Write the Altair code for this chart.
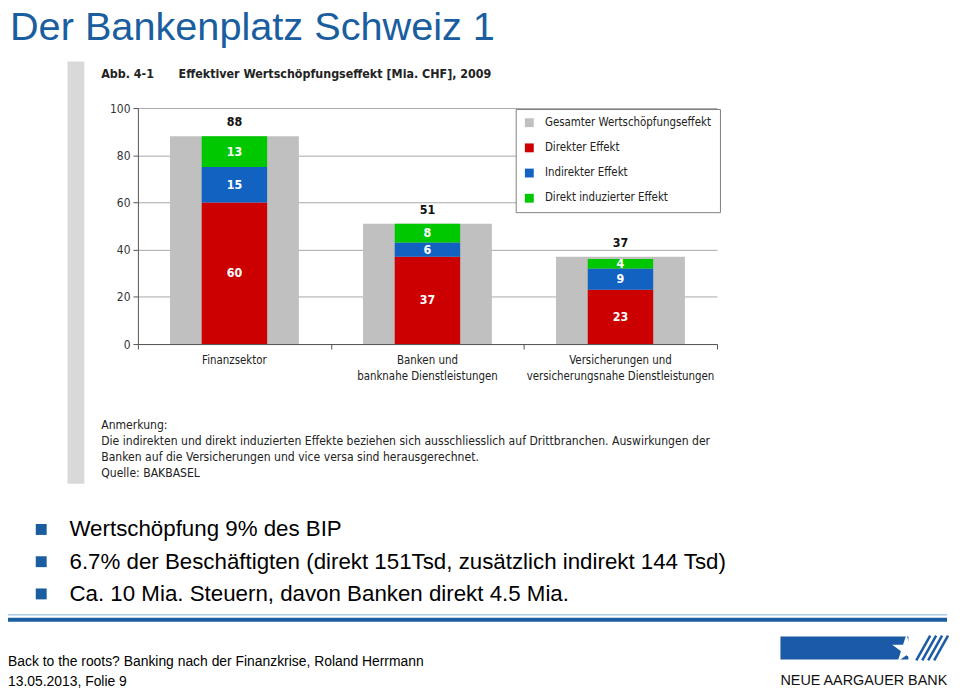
import altair as alt
import pandas as pd

# ---------------- data ----------------
categories = ["Finanzsektor", "Banken", "Versicherungen"]
category_labels = ["Finanzsektor",
                   "Banken und\nbanknahe Dienstleistungen",
                   "Versicherungen und\nversicherungsnahe Dienstleistungen"]
totals = [88, 51, 37]
direkt = [60, 37, 23]
indirekt = [15, 6, 9]
induziert = [13, 8, 4]
series = ["Gesamter Wertschöpfungseffekt", "Direkter Effekt",
          "Indirekter Effekt", "Direkt induzierter Effekt"]
colors = ["#C0C0C0", "#CC0000", "#1262C2", "#00C800"]
y_ticks = [0, 20, 40, 60, 80, 100]

slide_title = "Der Bankenplatz Schweiz 1"
fig_no = "Abb. 4-1"
fig_title = "Effektiver Wertschöpfungseffekt [Mia. CHF], 2009"
notes = ["Anmerkung:",
         "Die indirekten und direkt induzierten Effekte beziehen sich ausschliesslich auf Drittbranchen. Auswirkungen der",
         "Banken auf die Versicherungen und vice versa sind herausgerechnet.",
         "Quelle: BAKBASEL"]
bullets = ["Wertschöpfung 9% des BIP",
           "6.7% der Beschäftigten (direkt 151Tsd, zusätzlich indirekt 144 Tsd)",
           "Ca. 10 Mia. Steuern, davon Banken direkt 4.5 Mia."]
footer = ["Back to the roots? Banking nach der Finanzkrise, Roland Herrmann",
          "13.05.2013, Folie 9"]
logo_text = "NEUE AARGAUER BANK"

# ---------------- tables ----------------
tot_df = pd.DataFrame({"cat": categories, "label": category_labels,
                       "value": totals, "series": series[0]})
rows = []
for j, (s, vals) in enumerate(zip(series[1:], [direkt, indirekt, induziert])):
    for c, v in zip(categories, vals):
        rows.append({"cat": c, "series": s, "value": v, "ord": j})
seg_df = pd.DataFrame(rows)

CF = "DejaVu Sans Condensed, DejaVu Sans, sans-serif"
SF = "Liberation Sans, Arial, sans-serif"
BLUE = "#1A5E9F"

OX, OY = 139, 106          # page position of plot origin
W, H = 584, 238

x_enc = alt.X("cat:N", sort=categories,
              scale=alt.Scale(domain=categories, paddingInner=0, paddingOuter=0),
              axis=alt.Axis(title=None, labels=False, ticks=True, tickBand="extent",
                            tickSize=5, tickColor="#555", domainColor="#555", grid=False))
y_scale = alt.Scale(domain=[0, 100], nice=False)
y_axis = alt.Axis(title=None, values=y_ticks, grid=True, gridColor="#A8A8A8",
                  domainColor="#555", tickColor="#555", tickSize=5,
                  labelFont=CF, labelFontSize=12, labelColor="#333", labelPadding=3)
col_enc = alt.Color("series:N", sort=series,
                    scale=alt.Scale(domain=series, range=colors),
                    legend=alt.Legend(title=None, orient="none", legendX=381, legendY=1,
                                      fillColor="white", strokeColor="#808080",
                                      padding=8, rowPadding=12.4, symbolType="square",
                                      symbolSize=80, symbolStrokeWidth=0,
                                      labelFont=CF, labelFontSize=11.5, labelColor="#222",
                                      labelOffset=10, labelLimit=400, cornerRadius=0))

gray = alt.Chart(tot_df).mark_bar(size=130).encode(
    x=x_enc, y=alt.Y("value:Q", scale=y_scale, axis=y_axis), color=col_enc)

stack = alt.Chart(seg_df).mark_bar(size=66).encode(
    x=x_enc, y=alt.Y("value:Q", scale=y_scale, axis=y_axis, stack="zero"),
    color=col_enc, order=alt.Order("ord:Q"))

seg_lab = alt.Chart(seg_df).transform_stack(
    stack="value", groupby=["cat"], as_=["v0", "v1"], sort=[alt.SortField("ord")]
).transform_calculate(mid="(datum.v0 + datum.v1) / 2").mark_text(
    color="white", fontWeight="bold", fontSize=12.5, font=CF, baseline="middle"
).encode(x=x_enc, y=alt.Y("mid:Q", scale=y_scale, axis=y_axis), text="value:Q")

tot_lab = alt.Chart(tot_df).mark_text(
    color="#111", fontWeight="bold", fontSize=12.5, font=CF, baseline="middle", dy=-14
).encode(x=x_enc, y=alt.Y("value:Q", scale=y_scale, axis=y_axis), text="value:Q")

cat_lab = alt.Chart(tot_df).mark_text(
    color="#222", fontSize=11.5, font=CF, baseline="top", lineBreak="\n", lineHeight=16
).encode(x=x_enc, y=alt.value(355 - OY), text="label:N")

base = pd.DataFrame({"d": [0]})


def txt(s, px, py, size, color="#000", weight="normal", font=CF, align="left",
        baseline="middle"):
    return alt.Chart(base).mark_text(
        text=s, align=align, baseline=baseline, fontSize=size, font=font,
        fontWeight=weight, color=color
    ).encode(x=alt.value(px - OX), y=alt.value(py - OY))


def rect(x1, y1, x2, y2, color):
    return alt.Chart(base).mark_rect(color=color).encode(
        x=alt.value(x1 - OX), x2=alt.value(x2 - OX),
        y=alt.value(y1 - OY), y2=alt.value(y2 - OY))


def rule(x1, y1, x2, y2, color, w):
    return alt.Chart(base).mark_rule(color=color, strokeWidth=w).encode(
        x=alt.value(x1 - OX), x2=alt.value(x2 - OX),
        y=alt.value(y1 - OY), y2=alt.value(y2 - OY))


layers = []
# chart picture frame strip
layers.append(rect(68, 59, 85, 485, "#D9D9D9"))
layers += [gray, stack, seg_lab, tot_lab, cat_lab]

# slide title
layers.append(txt(slide_title, 10, 37, 40, color=BLUE, font=SF, baseline="alphabetic"))
# figure title
layers.append(txt(fig_no, 102, 72, 12.5, weight="bold", color="#222"))
layers.append(txt(fig_title, 180, 72, 12.5, weight="bold", color="#222"))
# notes
for i, n in enumerate(notes):
    layers.append(txt(n, 102, 426 + i * 16, 12.2, color="#222"))
# bullets
for i, b in enumerate(bullets):
    yc = 531 + i * 32.5
    layers.append(rect(36, yc - 5.5, 47, yc + 5.5, BLUE))
    layers.append(txt(b, 70, yc, 22.5, font=SF))
# separator lines
layers.append(rule(0, 617, 955, 617, "#A9C9E8", 1.5))
layers.append(rule(0, 622, 955, 622, BLUE, 4))
# footer
layers.append(txt(footer[0], 8, 665, 14, font=SF))
layers.append(txt(footer[1], 8, 685, 14, font=SF))
# logo
layers.append(rect(787, 639, 916, 662, "#1B5AA6"))
star = ("M0,-1 L0.2245,-0.309 L0.951,-0.309 L0.363,0.118 L0.588,0.809 L0,0.382 "
        "L-0.588,0.809 L-0.363,0.118 L-0.951,-0.309 L-0.2245,-0.309 Z")
for k in range(4):
    layers.append(rule(924 + k * 6, 663, 938 + k * 6, 638, "#1B5AA6", 2.5))
layers.append(alt.Chart(base).mark_point(shape=star, filled=True, color="white",
                                          opacity=1, size=900, strokeWidth=0).encode(
    x=alt.value(914 - OX), y=alt.value(652 - OY)))
layers.append(txt(logo_text, 787, 684, 14.5, font=SF, color="#111"))

chart = alt.layer(*layers).properties(
    width=W, height=H,
    autosize=alt.AutoSizeParams(type="none"),
    padding={"left": OX - 8, "top": OY - 8, "right": 952 - (OX - 8) - W,
             "bottom": 684 - (OY - 8) - H},
    background="white",
).configure_view(stroke=None)

chart.save("out.html", embed_options={"renderer": "svg", "actions": False})
